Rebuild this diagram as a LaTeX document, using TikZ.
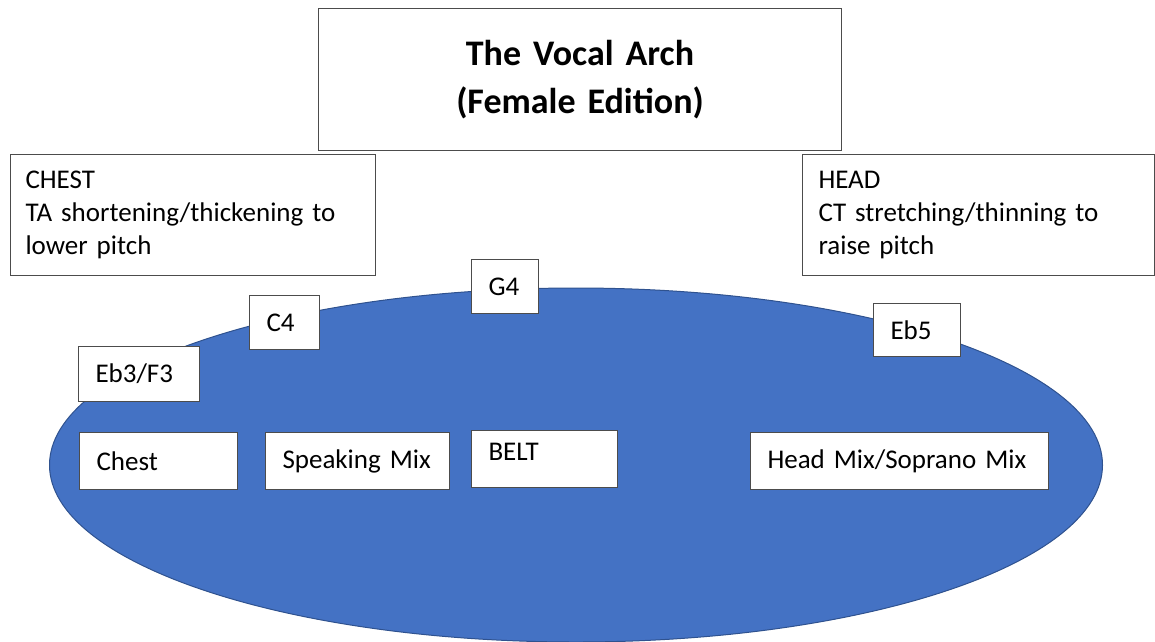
\documentclass[tikz,border=0pt]{standalone}
\usepackage{fontspec}
\setmainfont{Carlito}
\usetikzlibrary{shapes.geometric}
\definecolor{archblue}{HTML}{4472C4}
\definecolor{archedge}{HTML}{2F528F}
\tikzset{
  notebox/.style={draw=black!70, fill=white, line width=1pt, anchor=north west,
    inner xsep=16pt, inner ysep=0pt, align=left, font=\fontsize{27}{33}\selectfont},
  pitchbox/.style={notebox, inner xsep=17pt},
}
\begin{document}
\begin{tikzpicture}[x=1pt,y=-1pt]
\useasboundingbox (0,0) rectangle (1155,641);

\node[ellipse, fill=archblue, draw=archedge, line width=1pt, inner sep=0pt,
  minimum width=1053pt, minimum height=354pt] (arch) at (576,465) {};

\node[notebox, minimum width=523pt, minimum height=142pt, text width=491pt, align=center,
  font=\bfseries\fontsize{36}{48}\selectfont] (title) at (318,8) {The Vocal Arch\\(Female Edition)};

\node[notebox, inner xsep=15pt, minimum height=121pt, text width=335pt] (chest) at (10,154)
  {CHEST\\TA shortening/thickening to\\lower pitch};
\node[notebox, minimum height=121pt, text width=320pt] (head) at (802,154)
  {HEAD\\CT stretching/thinning to\\raise pitch};

% pitch markers
\node[pitchbox, minimum height=54pt, text width=33pt] (g4) at (471,259) {G4};
\node[pitchbox, minimum height=54pt, text width=36pt] (c4) at (249,295) {C4};
\node[pitchbox, minimum height=55pt, text width=87pt] (eb3) at (78,346) {Eb3/F3};
\node[pitchbox, minimum height=53pt, text width=53pt] (eb5) at (873,303) {Eb5};

% registers
\node[pitchbox, minimum height=57pt, text width=124pt] (chestreg) at (79,432) {Chest};
\node[pitchbox, minimum height=57pt, text width=150pt] (speak) at (265,432) {\mbox{Speaking Mix}};
\node[pitchbox, minimum height=57pt, text width=112pt, text depth=14pt] (belt) at (471,430) {BELT};
\node[pitchbox, minimum height=57pt, text width=264pt] (headmix) at (750,432) {\mbox{Head Mix/Soprano Mix}};
\end{tikzpicture}
\end{document}
